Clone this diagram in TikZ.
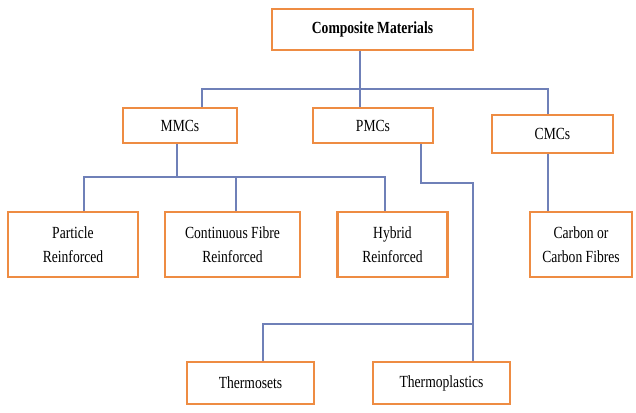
\documentclass[tikz,border=0pt]{standalone}
\usepackage{fontspec}
\setmainfont[FakeStretch=0.8]{Liberation Serif}
\usepackage{tikz}
\usetikzlibrary{calc,positioning}
\definecolor{boxorange}{HTML}{EE8C43}
\definecolor{linkblue}{HTML}{6F80B8}

\begin{document}
\begin{tikzpicture}[x=1pt,y=-1pt,
	box/.style={draw=boxorange,line width=2.2pt,fill=white,align=center,inner sep=0pt,
		font=\fontsize{17}{24}\selectfont},
	link/.style={draw=linkblue,line width=1.1pt}]
		
		\useasboundingbox (0,0) rectangle (636,412);
		
		% Root
		\node[box,minimum width=201,minimum height=41,font=\fontsize{17}{24}\selectfont\bfseries] (comp) at (372.5,29.5) {Composite Materials};
		
		% Matrix types
		\node[box,minimum width=114,minimum height=35] (mmc) at (180,125.5) {MMCs};
		\node[box,minimum width=120,minimum height=35] (pmc) at (373,125.5) {PMCs};
		\node[box,minimum width=121,minimum height=38] (cmc) at (552.5,134) {CMCs};
		
		% Reinforcements
		\node[box,minimum width=130,minimum height=65] (part) at (73,244.5) {Particle\\Reinforced};
		\node[box,minimum width=135,minimum height=65] (cont) at (232.5,244.5) {Continuous Fibre\\Reinforced};
		\node[box,minimum width=110,minimum height=65] (hyb) at (392.5,244.5) {Hybrid\\Reinforced};
		\node[box,minimum width=102,minimum height=65] (carb) at (581,244.5) {Carbon or\\Carbon Fibres};
		
		% Polymers
		\node[box,minimum width=127,minimum height=42] (tset) at (250.5,383) {Thermosets};
		\node[box,minimum width=137,minimum height=42] (tplas) at (441.5,383) {Thermoplastics};
		
		% Bus points
		\coordinate (topL) at (202,89);
		\coordinate (topR) at (548,89);
		\coordinate (mbus) at (177,177);
		\coordinate (pbend) at (473,183);
		\coordinate (tbus) at (473,324);
		
		% Root to matrices
		\draw[link] ([xshift=-12.5pt]comp.south) -- ([xshift=-12.5pt]comp.south |- pmc.north);
		\draw[link] (mmc.north -| topL) |- (topR) -- (cmc.north -| topR);
		
		% MMCs branch
		\draw[link] (mmc.south -| mbus) -- (mbus);
		\draw[link] ([xshift=11pt]part.north) |- (mbus) -| ([xshift=-7.5pt]hyb.north);
		\draw[link] ([xshift=3.5pt]cont.north) -- ([xshift=3.5pt]cont.north |- mbus);
		
		% PMCs branch
		\draw[link] ([xshift=48pt]pmc.south) |- (pbend) -- (tplas.north -| pbend);
		\draw[link] ([xshift=12.5pt]tset.north) |- (tbus);
		
		% CMCs branch
		\draw[link] (cmc.south -| topR) -- (carb.north -| topR);
		
	\end{tikzpicture}
\end{document}
